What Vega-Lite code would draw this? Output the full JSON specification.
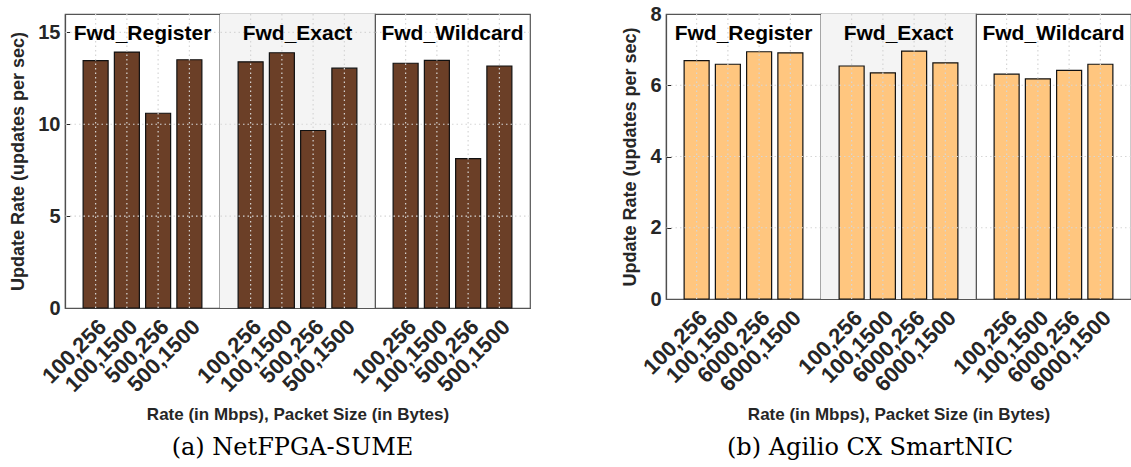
{
  "$schema": "https://vega.github.io/schema/vega-lite/v6.json",
  "padding": {"left": 9, "top": 4, "right": 0, "bottom": 0},
  "background": "white",
  "spacing": 89,
  "config": {
    "font": "Liberation Sans",
    "view": {"stroke": "#555555", "strokeWidth": 1.2},
    "axis": {
      "labelFont": "Liberation Sans",
      "labelFontWeight": "bold",
      "labelColor": "#262626",
      "titleFont": "Liberation Sans",
      "titleFontWeight": "bold",
      "titleColor": "#262626",
      "domainColor": "#262626",
      "domainWidth": 1.2,
      "tickColor": "#262626",
      "grid": false
    },
    "rule": {"color": "#d6d6d6", "strokeDash": [1.5, 3], "strokeWidth": 1.2},
    "title": {"font": "DejaVu Serif", "fontWeight": "normal", "color": "black", "fontSize": 24, "anchor": "middle"}
  },
  "datasets": {
    "sume": [
      {"group": "Fwd_Register", "config": "100,256", "rate": 13.46},
      {"group": "Fwd_Register", "config": "100,1500", "rate": 13.93},
      {"group": "Fwd_Register", "config": "500,256", "rate": 10.6},
      {"group": "Fwd_Register", "config": "500,1500", "rate": 13.51},
      {"group": "Fwd_Exact", "config": "100,256", "rate": 13.4},
      {"group": "Fwd_Exact", "config": "100,1500", "rate": 13.89},
      {"group": "Fwd_Exact", "config": "500,256", "rate": 9.66},
      {"group": "Fwd_Exact", "config": "500,1500", "rate": 13.05},
      {"group": "Fwd_Wildcard", "config": "100,256", "rate": 13.32},
      {"group": "Fwd_Wildcard", "config": "100,1500", "rate": 13.48},
      {"group": "Fwd_Wildcard", "config": "500,256", "rate": 8.13},
      {"group": "Fwd_Wildcard", "config": "500,1500", "rate": 13.17}
    ],
    "agilio": [
      {"group": "Fwd_Register", "config": "100,256", "rate": 6.69},
      {"group": "Fwd_Register", "config": "100,1500", "rate": 6.59},
      {"group": "Fwd_Register", "config": "6000,256", "rate": 6.94},
      {"group": "Fwd_Register", "config": "6000,1500", "rate": 6.91},
      {"group": "Fwd_Exact", "config": "100,256", "rate": 6.54},
      {"group": "Fwd_Exact", "config": "100,1500", "rate": 6.35},
      {"group": "Fwd_Exact", "config": "6000,256", "rate": 6.96},
      {"group": "Fwd_Exact", "config": "6000,1500", "rate": 6.63},
      {"group": "Fwd_Wildcard", "config": "100,256", "rate": 6.31},
      {"group": "Fwd_Wildcard", "config": "100,1500", "rate": 6.18},
      {"group": "Fwd_Wildcard", "config": "6000,256", "rate": 6.42},
      {"group": "Fwd_Wildcard", "config": "6000,1500", "rate": 6.59}
    ]
  },
  "hconcat": [
    {
      "data": {"name": "sume"},
      "title": {"text": "(a) NetFPGA-SUME", "orient": "bottom", "offset": 13, "dx": 22},
      "facet": {
        "column": {
          "field": "group",
          "type": "nominal",
          "sort": ["Fwd_Register", "Fwd_Exact", "Fwd_Wildcard"],
          "header": {
            "labels": false,
            "title": "Rate (in Mbps), Packet Size (in Bytes)",
            "titleOrient": "bottom",
            "titleFont": "Liberation Sans",
            "titleFontWeight": "bold",
            "titleFontSize": 17,
            "titleColor": "#262626",
            "titlePadding": 1
          }
        }
      },
      "spacing": 0,
      "bounds": "flush",
      "spec": {
        "width": 155,
        "height": 294,
        "layer": [
          {
            "transform": [{"filter": "datum.config === '100,256' && datum.group === 'Fwd_Exact'"}],
            "mark": {"type": "rect", "fill": "#f4f4f4"},
            "encoding": {}
          },
          {
            "mark": {"type": "bar", "fill": "#6b3f27", "stroke": "#111111", "strokeWidth": 1.2},
            "encoding": {
              "x": {
                "field": "config", "type": "nominal", "sort": null,
                "scale": {"paddingInner": 0.2, "paddingOuter": 0.58},
                "axis": {"orient": "bottom", "zindex": 1, "title": null, "labelAngle": -45, "labelAlign": "right", "labelBaseline": "middle", "labelFontSize": 22, "labelPadding": 20, "labelOffset": 7, "tickSize": -5}
              },
              "y": {
                "field": "rate", "type": "quantitative",
                "scale": {"domain": [0, 16], "nice": false},
                "axis": {"orient": "left", "zindex": 1, "values": [0, 5, 10, 15], "title": "Update Rate (updates per sec)", "titleFontSize": 18, "labelFontSize": 20, "tickSize": -5, "labelPadding": 10, "titlePadding": 10}
              }
            }
          },
          {
            "mark": {"type": "rule"},
            "encoding": {"x": {"field": "config", "type": "nominal", "sort": null}}
          },
          {
            "transform": [{"filter": "datum.config === '100,256'"}],
            "mark": {"type": "rule"},
            "encoding": {"y": {"datum": 5}}
          },
          {
            "transform": [{"filter": "datum.config === '100,256'"}],
            "mark": {"type": "rule"},
            "encoding": {"y": {"datum": 10}}
          },
          {
            "transform": [{"filter": "datum.config === '100,256'"}],
            "mark": {"type": "rule"},
            "encoding": {"y": {"datum": 15}}
          },
          {
            "transform": [{"filter": "datum.config === '100,256'"}],
            "mark": {"type": "text", "font": "Liberation Sans", "fontWeight": "bold", "fontSize": 21, "color": "black", "baseline": "middle"},
            "encoding": {
              "text": {"field": "group"},
              "y": {"datum": 14.9}
            }
          }
        ]
      }
    },
    {
      "data": {"name": "agilio"},
      "title": {"text": "(b) Agilio CX SmartNIC", "orient": "bottom", "offset": 13, "dx": -7},
      "facet": {
        "column": {
          "field": "group",
          "type": "nominal",
          "sort": ["Fwd_Register", "Fwd_Exact", "Fwd_Wildcard"],
          "header": {
            "labels": false,
            "title": "Rate (in Mbps), Packet Size (in Bytes)",
            "titleOrient": "bottom",
            "titleFont": "Liberation Sans",
            "titleFontWeight": "bold",
            "titleFontSize": 17,
            "titleColor": "#262626",
            "titlePadding": 1
          }
        }
      },
      "spacing": 0,
      "bounds": "flush",
      "spec": {
        "width": 155,
        "height": 285,
        "layer": [
          {
            "transform": [{"filter": "datum.config === '100,256' && datum.group === 'Fwd_Exact'"}],
            "mark": {"type": "rect", "fill": "#f4f4f4"},
            "encoding": {}
          },
          {
            "mark": {"type": "bar", "fill": "#ffc67f", "stroke": "#111111", "strokeWidth": 1.2},
            "encoding": {
              "x": {
                "field": "config", "type": "nominal", "sort": null,
                "scale": {"paddingInner": 0.2, "paddingOuter": 0.58},
                "axis": {"orient": "bottom", "zindex": 1, "title": null, "labelAngle": -45, "labelAlign": "right", "labelBaseline": "middle", "labelFontSize": 22, "labelPadding": 20, "labelOffset": 7, "tickSize": -5}
              },
              "y": {
                "field": "rate", "type": "quantitative",
                "scale": {"domain": [0, 8], "nice": false},
                "axis": {"orient": "left", "zindex": 1, "values": [0, 2, 4, 6, 8], "title": "Update Rate (updates per sec)", "titleFontSize": 18, "labelFontSize": 20, "tickSize": -5, "labelPadding": 10, "titlePadding": 10}
              }
            }
          },
          {
            "mark": {"type": "rule"},
            "encoding": {"x": {"field": "config", "type": "nominal", "sort": null}}
          },
          {
            "transform": [{"filter": "datum.config === '100,256'"}],
            "mark": {"type": "rule"},
            "encoding": {"y": {"datum": 2}}
          },
          {
            "transform": [{"filter": "datum.config === '100,256'"}],
            "mark": {"type": "rule"},
            "encoding": {"y": {"datum": 4}}
          },
          {
            "transform": [{"filter": "datum.config === '100,256'"}],
            "mark": {"type": "rule"},
            "encoding": {"y": {"datum": 6}}
          },
          {
            "transform": [{"filter": "datum.config === '100,256'"}],
            "mark": {"type": "text", "font": "Liberation Sans", "fontWeight": "bold", "fontSize": 21, "color": "black", "baseline": "middle"},
            "encoding": {
              "text": {"field": "group"},
              "y": {"datum": 7.44}
            }
          }
        ]
      }
    }
  ]
}
